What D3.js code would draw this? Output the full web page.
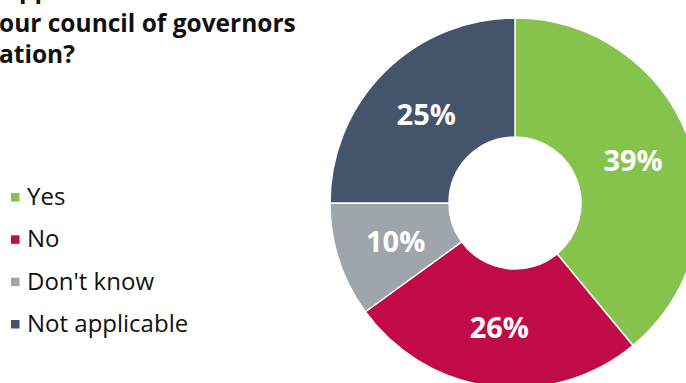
<!DOCTYPE html>
<html>
<head>
<meta charset="utf-8">
<script src="https://cdn.jsdelivr.net/npm/d3@7"></script>
<style>
  html, body { margin: 0; padding: 0; background: #ffffff; }
  svg { display: block; }
</style>
</head>
<body>
<svg id="chart" width="686" height="383"></svg>
<script>
// Survey answers and their shares (%)
const categories = ["Yes", "No", "Don't know", "Not applicable"];
const shares = [39, 26, 10, 25];
const colours = ["#85c34d", "#c10a48", "#9ea6ab", "#44546b"];
// Question lines (the block runs off the top-left edge)
const titleLines = ["upport", "our council of governors", "ation?"];

const width = 686, height = 383;
const svg = d3.select("#chart");

const baseFont = "'Open Sans', 'Noto Sans', sans-serif";

// ---- Title ----
const title = svg.append("g").attr("font-family", baseFont)
  .attr("font-weight", 700).attr("font-size", 24.5).attr("fill", "#111111");
title.append("text").attr("x", 3).attr("y", -2).text(titleLines[0]);
title.append("text").attr("x", -1).attr("y", 32).text(titleLines[1]);
title.append("text").attr("x", -1).attr("y", 63).text(titleLines[2]);

// ---- Legend ----
const legendY = d3.scalePoint().domain(categories).range([205, 332]);
const legend = svg.append("g").attr("font-family", baseFont).attr("font-size", 24);
const item = legend.selectAll("g").data(categories).join("g")
  .attr("transform", d => `translate(0,${legendY(d)})`);
item.append("rect")
  .attr("x", 11).attr("y", -12).attr("width", 8.5).attr("height", 8.5)
  .attr("fill", (d, i) => colours[i]);
item.append("text").attr("x", 27).attr("y", 0).attr("fill", "#111111").text(d => d);

// ---- Donut ----
const cx = 515, cy = 203, outerR = 185, innerR = 66;
const pie = d3.pie().sort(null).value(d => d.value);
const arcs = pie(categories.map((c, i) => ({ name: c, value: shares[i], colour: colours[i] })));
const arc = d3.arc().innerRadius(innerR).outerRadius(outerR);

const donut = svg.append("g").attr("transform", `translate(${cx},${cy})`);
donut.selectAll("path").data(arcs).join("path")
  .attr("d", arc)
  .attr("fill", d => d.data.colour)
  .attr("stroke", "#ffffff")
  .attr("stroke-width", 1.5)
  .attr("stroke-linejoin", "round");

donut.selectAll("text").data(arcs).join("text")
  .attr("transform", d => `translate(${arc.centroid(d)})`)
  .attr("text-anchor", "middle")
  .attr("dy", "0.36em")
  .attr("font-family", baseFont)
  .attr("font-weight", 700)
  .attr("font-size", 29)
  .attr("fill", "#ffffff")
  .text(d => d.data.value + "%");
</script>
</body>
</html>
